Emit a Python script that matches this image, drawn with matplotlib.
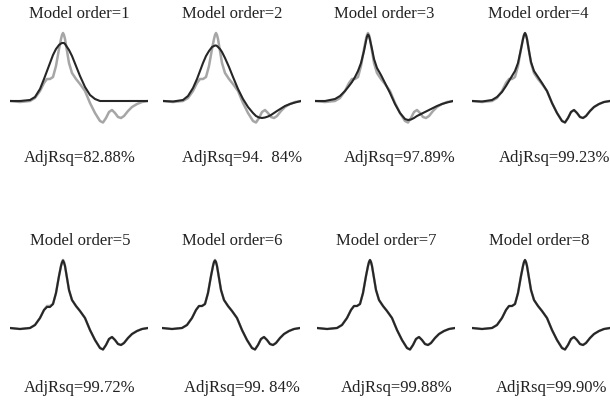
import matplotlib
matplotlib.use("Agg")
import matplotlib.pyplot as plt

plt.rcParams['font.family'] = ['Liberation Serif', 'DejaVu Serif']

# sample positions along the signal
t = [0, 10, 20, 25, 30, 34, 37, 40, 43, 46, 49, 51, 52, 53, 54, 55, 57, 59, 62,
     66, 70, 75, 80, 85, 90, 93, 96, 99, 102, 105, 108, 111, 114, 118, 122,
     127, 132, 138]

# measured (original) signal, gray
original = [0, -1, 0, 3, 10, 18, 22, 22, 24, 35, 52, 62, 66, 68, 66, 62, 50, 38,
            28, 22, 17, 10, -2, -12, -20, -21.5, -17, -11, -9, -12, -16, -17,
            -15, -10, -6, -3, -1, 0]

# model fits, black
fit1 = [0, 0, 1, 4, 12, 22, 30, 38, 46, 52, 56, 57.5, 58, 58, 58, 57, 54, 51,
        45, 35, 25, 14, 6, 2, 0, 0, 0, 0, 0, 0, 0, 0, 0, 0, 0, 0, 0, 0]
fit2 = [0, -0.5, 1, 5, 13, 22, 30, 38, 45, 50, 54, 55, 55.5, 55.5, 55, 54, 52,
        49, 43, 34, 24, 12, 2, -6, -12, -15, -16.5, -17, -16.5, -15.5, -14, -12,
        -10, -7.5, -5, -3, -1.5, 0]
fit3 = [0, 0, 2, 5, 10, 15, 19, 24, 30, 38, 50, 60, 64.5, 66.5, 65, 61, 52, 42,
        33, 26, 18, 8, -3, -12, -18, -19, -18.5, -17, -15, -13.5, -12, -10.5,
        -9, -7, -5, -3, -1.5, 0]
fit4 = [0, -0.5, 1, 4, 9, 15, 20, 25, 30, 38, 52, 62, 66, 68, 66, 62, 50, 39,
        30, 24, 18, 10, -2, -12, -20, -21.5, -17, -11, -9, -12, -16, -17, -15,
        -10, -6, -3, -1, 0]
fit5 = [0, -1, 0, 3, 10, 18, 21, 21, 24, 35, 52, 62, 65.5, 67.5, 65.5, 62, 50,
        38, 28, 22, 17, 10, -2, -12, -20, -21.5, -17, -11, -9, -12, -16, -17,
        -15, -10, -6, -3, -1, 0]
fit6 = [0, -1, 0, 3, 10, 18, 22, 22, 24, 35, 52, 62, 66, 67.5, 66, 62, 50, 38,
        28, 22, 17, 10, -2, -12, -20, -21.5, -17, -11, -9, -12, -16, -17, -15,
        -10, -6, -3, -1, 0]
fit7 = [0, -1, 0, 3, 10, 18, 22, 22, 24, 35, 52, 62, 66, 68, 66, 62, 50, 38,
        28, 22, 17, 10, -2, -12, -20, -21.5, -17, -11, -9, -12, -16, -17, -15,
        -10, -6, -3, -1, 0]
fit8 = [0, -1, 0, 3, 10, 18, 22, 22, 24, 35, 52, 62, 66, 68, 66, 62, 50, 38,
        28, 22, 17, 10, -2, -12, -20, -21.5, -17, -11, -9, -12, -16, -17, -15,
        -10, -6, -3, -1, 0]

fits = [fit1, fit2, fit3, fit4, fit5, fit6, fit7, fit8]
orders = [1, 2, 3, 4, 5, 6, 7, 8]
adj_labels = ["AdjRsq=82.88%", "AdjRsq=94.  84%", "AdjRsq=97.89%", "AdjRsq=99.23%",
              "AdjRsq=99.72%", "AdjRsq=99. 84%", "AdjRsq=99.88%", "AdjRsq=99.90%"]

W, H = 610, 401
fig = plt.figure(figsize=(W / 100, H / 100), dpi=100)

# panel layout in pixels: left edge of curve, baseline y, title x, label x
x_left = [10, 163, 315, 472, 10, 162, 317, 472]
base_y = [101, 101, 101, 101, 328, 328, 328, 328]
title_x = [79, 232, 384, 538, 80, 232, 386, 539]
title_y = [14, 14, 14, 14, 241, 241, 241, 241]
label_x = [80, 242, 400, 555, 80, 242, 397, 552]
label_y = [158, 158, 158, 158, 388, 388, 388, 388]

h_lo, h_hi = -30, 75
for i in range(8):
    left = x_left[i] / W
    bottom = (H - (base_y[i] - h_lo)) / H
    ax = fig.add_axes([left, bottom, 138 / W, (h_hi - h_lo) / H])
    ax.plot(t, original, color='#a6a6a6', lw=1.8, solid_capstyle='round')
    ax.plot(t, fits[i], color='#262626', lw=1.5, solid_capstyle='round')
    ax.set_xlim(0, 138)
    ax.set_ylim(h_lo, h_hi)
    ax.axis('off')

    fig.text(title_x[i] / W, 1 - title_y[i] / H, "Model order=%d" % orders[i],
             ha='center', va='center', fontsize=12, color='#222222')
    fig.text(label_x[i] / W, 1 - label_y[i] / H, adj_labels[i],
             ha='center', va='center', fontsize=12, color='#222222')

fig.savefig("out.png", dpi=100, facecolor='white')
